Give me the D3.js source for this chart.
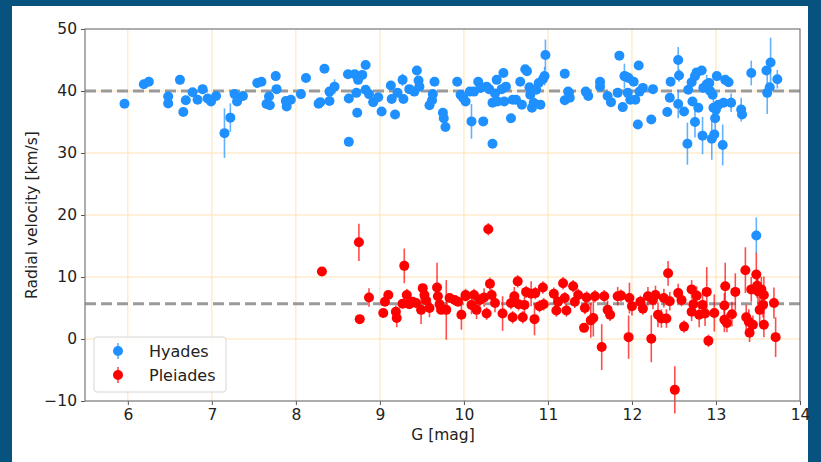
<!DOCTYPE html>
<html lang="en">
<head>
<meta charset="utf-8">
<title>Radial velocity vs G</title>
<script src="https://cdn.jsdelivr.net/npm/d3@7"></script>
<style>
  body { margin: 0; background: #08527f; }
  svg { display: block; }
  text { font-family: "DejaVu Sans", sans-serif; }
</style>
</head>
<body>
<svg id="chart" width="821" height="462"></svg>
<script>
// [G mag, radial velocity km/s, error]
const hyades = [
  [5.96,37.95,0.3],[6.19,41.1,0.3],[6.25,41.5,0.3],[6.48,39.1,0.3],[6.48,38.0,0.3],
  [6.62,41.8,0.3],[6.69,38.5,0.3],[6.66,36.6,0.3],[6.77,39.8,0.3],[6.83,38.6,0.3],
  [6.89,40.3,0.3],[6.95,38.8,0.3],[6.99,38.3,0.3],[7.05,39.2,0.3],[7.15,33.2,4.0],
  [7.22,35.7,2.3],[7.27,39.5,0.3],[7.30,38.3,0.3],[7.37,39.2,0.3],[7.54,41.3,0.3],
  [7.59,41.5,0.3],[7.76,42.4,0.3],[7.68,39.1,0.3],[7.65,37.9,0.3],[7.69,37.7,0.3],
  [7.77,40.3,0.3],[7.88,38.4,0.3],[7.89,37.5,0.3],[7.94,38.6,0.3],[8.06,39.5,0.3],
  [8.12,42.1,0.3],[8.27,37.95,0.3],[8.29,38.2,0.3],[8.34,43.6,0.3],[8.40,38.4,0.3],
  [8.40,39.9,0.3],[8.46,40.7,1.2],[8.62,42.7,0.3],[8.70,42.7,0.3],[8.79,42.6,0.3],
  [8.83,44.2,0.3],[8.74,41.8,0.3],[8.72,39.7,0.3],[8.63,38.8,0.3],[8.73,36.5,0.3],
  [8.63,31.8,0.3],[8.83,40.2,0.3],[8.87,39.5,0.3],[8.92,38.2,0.3],[8.98,39.0,0.3],
  [9.02,36.7,0.3],[9.13,40.9,0.3],[9.14,38.7,0.3],[9.18,36.2,0.3],[9.21,39.7,0.3],
  [9.27,41.8,1.0],[9.28,38.7,0.3],[9.35,40.3,0.3],[9.41,39.9,0.3],[9.44,43.3,0.3],
  [9.46,41.7,0.3],[9.47,40.7,0.3],[9.59,37.7,0.3],[9.62,38.5,0.3],[9.63,39.5,0.3],
  [9.65,41.5,0.3],[9.75,36.5,0.3],[9.76,35.6,0.3],[9.78,34.2,0.3],[9.92,41.5,0.3],
  [9.96,39.4,0.3],[9.99,38.9,0.3],[10.02,38.3,0.3],[10.07,39.9,0.3],[10.09,35.1,2.8],
  [10.12,39.9,0.3],[10.17,41.5,0.3],[10.20,40.5,0.3],[10.23,35.1,0.3],[10.27,40.7,0.3],
  [10.30,40.3,0.3],[10.34,31.5,0.3],[10.34,38.1,0.3],[10.37,39.6,0.3],[10.39,41.8,0.3],
  [10.40,38.3,0.3],[10.45,40.3,0.3],[10.47,42.9,0.3],[10.48,38.3,0.3],[10.50,40.7,0.3],
  [10.56,35.6,0.3],[10.58,38.6,0.3],[10.62,38.6,0.3],[10.67,41.5,0.3],[10.69,37.8,0.3],
  [10.73,43.5,0.3],[10.75,43.2,0.3],[10.78,40.6,0.3],[10.79,39.4,0.3],[10.81,37.3,0.3],
  [10.83,38.1,0.3],[10.86,40.2,0.3],[10.89,41.3,0.3],[10.91,37.8,0.3],[10.94,41.9,0.3],
  [10.96,42.4,1.5],[10.97,45.8,2.5],[11.20,42.8,0.3],[11.20,38.5,0.3],[11.24,39.9,0.3],
  [11.25,39.7,0.3],[11.26,38.9,0.3],[11.45,39.9,0.3],[11.48,39.2,0.3],[11.62,41.5,0.3],
  [11.62,40.7,0.3],[11.71,39.2,0.3],[11.75,38.2,0.3],[11.83,39.7,0.3],[11.85,45.7,0.3],
  [11.89,37.4,0.3],[11.91,42.4,2.0],[11.93,42.3,0.3],[11.95,39.7,0.3],[11.96,42.1,0.3],
  [11.98,38.6,0.3],[12.02,41.5,0.3],[12.04,38.6,0.3],[12.08,44.1,0.3],[12.07,34.6,0.3],
  [12.09,39.9,0.3],[12.13,40.5,0.3],[12.23,35.4,0.3],[12.25,40.3,0.3],[12.42,36.6,0.3],
  [12.45,38.9,0.3],[12.46,41.5,0.3],[12.55,45.0,2.1],[12.56,42.5,1.0],[12.55,37.9,2.3],
  [12.62,36.7,0.3],[12.66,31.5,3.4],[12.67,40.2,0.3],[12.71,41.4,0.3],[12.72,38.3,0.3],
  [12.75,35.0,2.5],[12.75,42.4,0.3],[12.77,43.0,0.3],[12.79,37.3,0.3],[12.83,43.3,0.3],
  [12.84,32.8,3.0],[12.85,40.5,0.3],[12.89,41.1,1.5],[12.92,41.3,0.3],[12.93,40.0,0.3],
  [12.95,32.3,3.4],[12.96,39.4,0.3],[12.97,37.3,2.0],[12.98,33.0,0.3],[12.99,35.6,2.5],
  [13.00,37.0,0.3],[13.01,42.4,0.3],[13.03,37.8,0.3],[13.08,31.3,3.3],[13.09,38.1,0.3],
  [13.11,41.8,0.3],[13.15,41.4,0.3],[13.18,38.1,1.5],[13.30,37.0,1.9],[13.31,36.2,0.3],
  [13.42,42.9,2.0],[13.60,43.3,0.3],[13.61,39.7,3.4],[13.65,44.6,4.0],[13.64,40.6,0.3],
  [13.73,41.9,1.5],[13.48,16.7,2.9]
];

const pleiades = [
  [8.31,10.9,0.6],[8.75,15.6,3.0],[8.76,3.2,0.3],[8.87,6.7,1.5],[9.04,4.2,0.3],
  [9.06,6.0,0.5],[9.10,7.1,0.5],[9.19,4.4,1.0],[9.20,3.4,1.5],[9.29,11.8,2.8],
  [9.27,5.7,0.5],[9.32,7.1,1.0],[9.35,5.6,0.5],[9.39,6.0,0.5],[9.43,5.8,0.5],
  [9.49,4.7,2.3],[9.51,8.2,0.5],[9.53,7.1,0.5],[9.55,6.2,0.5],[9.59,5.0,1.5],
  [9.68,8.3,4.0],[9.69,6.9,1.0],[9.71,5.6,0.5],[9.73,4.7,0.5],[9.79,4.7,4.8],
  [9.83,6.6,0.5],[9.89,6.3,0.5],[9.97,3.9,2.4],[9.93,6.0,0.5],[10.02,6.9,0.5],
  [10.29,17.7,1.0],[10.02,7.1,1.0],[10.09,5.5,1.5],[10.12,7.1,1.0],[10.15,4.7,1.5],
  [10.19,6.3,1.0],[10.24,6.7,1.5],[10.27,4.1,1.0],[10.31,8.9,1.0],[10.33,7.1,1.0],
  [10.37,5.8,1.5],[10.46,4.1,2.8],[10.56,5.8,1.0],[10.58,3.5,1.0],[10.60,6.9,1.5],
  [10.64,9.3,1.0],[10.65,5.6,1.0],[10.70,3.5,1.0],[10.72,5.5,1.5],[10.74,7.6,1.0],
  [10.80,7.3,2.0],[10.84,3.2,2.6],[10.85,7.4,1.0],[10.90,5.3,1.0],[10.94,8.3,1.0],
  [10.95,5.6,1.0],[11.07,7.3,1.0],[11.10,4.6,1.0],[11.12,6.0,1.0],[11.18,9.0,1.0],
  [11.20,6.6,1.0],[11.22,4.6,1.0],[11.30,8.5,1.0],[11.32,6.0,1.0],[11.36,7.1,1.0],
  [11.44,5.0,1.0],[11.43,1.8,0.5],[11.46,6.7,1.0],[11.51,3.0,2.8],[11.54,3.4,3.0],
  [11.56,6.9,1.0],[11.64,-1.3,3.7],[11.67,6.9,1.0],[11.71,4.7,1.5],[11.74,3.9,1.0],
  [11.83,6.9,1.5],[11.87,7.0,1.0],[11.96,0.3,3.5],[11.97,6.6,2.5],[12.00,5.3,1.5],
  [12.10,6.0,1.0],[12.13,4.9,1.0],[12.19,6.9,1.5],[12.23,0.05,3.8],[12.25,6.3,1.5],
  [12.28,7.1,1.5],[12.31,3.9,2.0],[12.35,3.3,1.5],[12.38,6.6,1.5],[12.41,3.3,1.5],
  [12.43,10.6,2.0],[12.45,6.1,1.5],[12.51,-8.2,3.8],[12.55,7.4,1.5],[12.59,6.3,1.0],
  [12.62,2.0,1.0],[12.71,8.0,1.5],[12.71,4.4,1.5],[12.73,5.6,1.5],[12.77,7.0,1.5],
  [12.80,3.9,2.0],[12.84,5.5,2.0],[12.87,4.1,2.0],[12.89,7.6,4.0],[12.91,-0.3,1.0],
  [12.98,4.2,3.0],[13.11,8.5,3.8],[13.10,5.4,2.0],[13.10,3.1,2.0],[13.13,2.6,1.5],
  [13.19,4.0,2.0],[13.23,7.6,3.0],[13.35,11.1,3.7],[13.36,3.5,2.0],[13.39,2.8,2.0],
  [13.42,8.0,2.0],[13.40,1.0,1.5],[13.44,2.3,1.5],[13.48,10.4,3.5],[13.49,8.6,2.0],
  [13.50,7.7,2.0],[13.52,4.7,2.5],[13.54,8.0,2.0],[13.56,5.5,2.0],[13.57,7.1,3.0],
  [13.57,2.3,2.0],[13.69,5.8,2.5],[13.71,0.3,3.2]
];

const xTicks = [6, 7, 8, 9, 10, 11, 12, 13, 14];
const yTicks = [-10, 0, 10, 20, 30, 40, 50];
const meanLines = [40.0, 5.7];
const seriesNames = ["Hyades", "Pleiades"];
const seriesColors = ["#1e90ff", "#ff0000"];

const svg = d3.select("#chart");

// white figure area inside the dark frame
svg.append("rect").attr("x", 12).attr("y", 6).attr("width", 796).attr("height", 456).attr("fill", "#fff");

const x = d3.scaleLinear().domain([5.49, 14]).range([85, 800]);
const y = d3.scaleLinear().domain([-10, 50]).range([401, 29]);

const plot = svg.append("g");

// grid
plot.selectAll(".gx").data(xTicks.filter(d => d < 14)).enter().append("line")
  .attr("x1", d => x(d)).attr("x2", d => x(d))
  .attr("y1", y(-10)).attr("y2", y(50))
  .attr("stroke", "#ffe2b0").attr("stroke-width", 1);
plot.selectAll(".gy").data(yTicks.filter(d => d > -10 && d < 50)).enter().append("line")
  .attr("x1", x(5.49)).attr("x2", x(14))
  .attr("y1", d => y(d)).attr("y2", d => y(d))
  .attr("stroke", "#ffe2b0").attr("stroke-width", 1);

// mean lines
plot.selectAll(".mean").data(meanLines).enter().append("line")
  .attr("x1", x(5.49)).attr("x2", x(14))
  .attr("y1", d => y(d)).attr("y2", d => y(d))
  .attr("stroke", "#9a9a9a").attr("stroke-width", 3)
  .attr("stroke-dasharray", "11,5");

function drawSeries(data, color) {
  const g = plot.append("g");
  g.selectAll("line").data(data).enter().append("line")
    .attr("x1", d => x(d[0])).attr("x2", d => x(d[0]))
    .attr("y1", d => y(d[1] - d[2])).attr("y2", d => y(d[1] + d[2]))
    .attr("stroke", color).attr("stroke-opacity", 0.7).attr("stroke-width", 1.6);
  g.selectAll("circle").data(data).enter().append("circle")
    .attr("cx", d => x(d[0])).attr("cy", d => y(d[1]))
    .attr("r", 5).attr("fill", color);
}
drawSeries(hyades, seriesColors[0]);
drawSeries(pleiades, seriesColors[1]);

// axes
const fmt = d => (d < 0 ? "\u2212" + Math.abs(d) : "" + d);
const xAxis = svg.append("g").attr("transform", "translate(0,401)")
  .call(d3.axisBottom(x).tickValues(xTicks).tickFormat(fmt).tickSize(4).tickPadding(4));
const yAxis = svg.append("g").attr("transform", "translate(85,0)")
  .call(d3.axisLeft(y).tickValues(yTicks).tickFormat(fmt).tickSize(4).tickPadding(4));
[xAxis, yAxis].forEach(a => {
  a.select(".domain").remove();
  a.selectAll("line").attr("stroke", "#555");
  a.selectAll("text").attr("font-size", 15.5).attr("fill", "#222")
    .style("font-family", "'DejaVu Sans', sans-serif");
});

// frame
svg.append("rect").attr("x", 85).attr("y", 29).attr("width", 715).attr("height", 372)
  .attr("fill", "none").attr("stroke", "#777").attr("stroke-width", 1.2);

svg.append("text").attr("x", 443).attr("y", 440).attr("text-anchor", "middle")
  .attr("font-size", 15.5).attr("fill", "#222").text("G [mag]");
svg.append("text").attr("transform", "translate(37,215) rotate(-90)")
  .attr("text-anchor", "middle").attr("font-size", 15.5).attr("fill", "#222")
  .text("Radial velocity [km/s]");

// legend
const lg = svg.append("g");
lg.append("rect").attr("x", 94).attr("y", 337).attr("width", 132).attr("height", 55)
  .attr("rx", 3).attr("fill", "#fff").attr("fill-opacity", 0.85)
  .attr("stroke", "#d6d6d6");
seriesNames.forEach((name, i) => {
  const cy = 351 + i * 24;
  lg.append("line").attr("x1", 118).attr("x2", 118).attr("y1", cy - 8).attr("y2", cy + 8)
    .attr("stroke", seriesColors[i]).attr("stroke-opacity", 0.7).attr("stroke-width", 1.6);
  lg.append("circle").attr("cx", 118).attr("cy", cy).attr("r", 5).attr("fill", seriesColors[i]);
  lg.append("text").attr("x", 149).attr("y", cy + 5.5).attr("font-size", 16).attr("fill", "#222").text(name);
});
</script>
</body>
</html>
